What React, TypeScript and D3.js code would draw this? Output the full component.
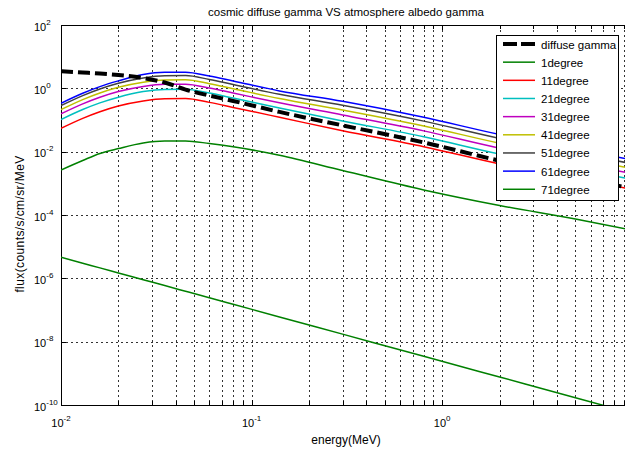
import React, { useEffect, useRef } from "react";
import * as d3 from "d3";

// energy grid (MeV) shared by all curves
const energy = [0.01, 0.013, 0.016, 0.02, 0.027, 0.035, 0.045, 0.06, 0.08, 0.14, 0.3, 0.8, 2, 5, 9.3];

const diffuseGamma = [3.45, 3.16, 2.94, 2.64, 2.12, 1.53, 0.91, 0.59, 0.4, 0.18, 0.0676, 0.0196, 0.00519, 0.00163, 0.00074];
const deg1 = [0.00264, 0.00526, 0.00877, 0.0125, 0.0188, 0.0217, 0.0217, 0.0181, 0.0143, 0.0077, 0.00255, 0.00062, 0.0002, 0.000075, 0.000036];
const deg11 = [0.0547, 0.113, 0.183, 0.277, 0.4, 0.47, 0.475, 0.36, 0.25, 0.122, 0.0457, 0.0144, 0.0041, 0.00143, 0.0007];
const deg21 = [0.104, 0.215, 0.348, 0.526, 0.788, 0.926, 0.936, 0.709, 0.493, 0.24, 0.0937, 0.0295, 0.0084, 0.00293, 0.00144];
const deg31 = [0.156, 0.322, 0.522, 0.789, 1.14, 1.34, 1.354, 1.026, 0.713, 0.348, 0.144, 0.0454, 0.0129, 0.0045, 0.0022];
const deg41 = [0.213, 0.441, 0.714, 1.08, 1.56, 1.833, 1.853, 1.404, 0.975, 0.476, 0.206, 0.0648, 0.0185, 0.00644, 0.00315];
const deg51 = [0.284, 0.588, 0.952, 1.44, 2.12, 2.49, 2.52, 1.91, 1.325, 0.647, 0.292, 0.0922, 0.0262, 0.00915, 0.00448];
const deg61 = [0.339, 0.701, 1.135, 1.717, 2.72, 3.2, 3.23, 2.45, 1.7, 0.83, 0.388, 0.122, 0.0349, 0.0122, 0.00595];
const deg71 = [4.62e-6, 3.0e-6, 2.14e-6, 1.48e-6, 9.05e-7, 5.9e-7, 3.91e-7, 2.44e-7, 1.52e-7, 6.05e-8, 1.73e-8, 3.45e-9, 7.66e-10, 1.7e-10, 6.1e-11];

const seriesNames = ["diffuse gamma", "1degree", "11degree", "21degree", "31degree", "41degree", "51degree", "61degree", "71degree"];
const seriesValues = [diffuseGamma, deg1, deg11, deg21, deg31, deg41, deg51, deg61, deg71];
const seriesColors = ["#000000", "#008000", "#ff0000", "#00bfbf", "#bf00bf", "#bfbf00", "#404040", "#0000ff", "#008000"];

const xTickExps = [-2, -1, 0];
const yTickExps = [2, 0, -2, -4, -6, -8, -10];

export default function App() {
  const ref = useRef<SVGSVGElement>(null);

  useEffect(() => {
    const width = 625;
    const height = 449;
    const left = 61, top = 25, bottom = 405;
    const font = "'Liberation Sans', Arial, sans-serif";

    const svg = d3.select(ref.current);
    svg.selectAll("*").remove();
    svg.attr("width", width).attr("height", height);

    svg.append("rect").attr("width", width).attr("height", height).attr("fill", "#fff");

    const x = d3.scaleLog().domain([0.01, 10]).range([left, left + 3 * 190.6]);
    const y = d3.scaleLog().domain([1e-10, 1e2]).range([bottom, top]);
    const right = width;

    svg.append("clipPath").attr("id", "plotclip")
      .append("rect").attr("x", left).attr("y", top).attr("width", right - left).attr("height", bottom - top);

    // x ticks (major + minor) from the scale
    const xTicks = x.ticks().filter(t => t < 10);
    const yTicks = yTickExps.map(e => Math.pow(10, e));

    const grid = svg.append("g").attr("stroke", "#333").attr("stroke-width", 1)
      .attr("stroke-dasharray", "2,3").attr("shape-rendering", "crispEdges");
    grid.selectAll(".vg").data(xTicks.filter(t => t > 0.01))
      .join("line")
      .attr("x1", d => Math.round(x(d)) + 0.5).attr("x2", d => Math.round(x(d)) + 0.5)
      .attr("y1", top).attr("y2", bottom);
    grid.selectAll(".hg").data(yTicks.filter(t => t < 1e2 && t > 1e-10))
      .join("line")
      .attr("x1", left).attr("x2", right)
      .attr("y1", d => Math.round(y(d)) + 0.5).attr("y2", d => Math.round(y(d)) + 0.5);

    // axes box + ticks
    const ax = svg.append("g").attr("stroke", "#000").attr("stroke-width", 1).attr("shape-rendering", "crispEdges");
    ax.append("line").attr("x1", left).attr("x2", right).attr("y1", top + 0.5).attr("y2", top + 0.5);
    ax.append("line").attr("x1", left).attr("x2", right).attr("y1", bottom + 0.5).attr("y2", bottom + 0.5);
    ax.append("line").attr("x1", left + 0.5).attr("x2", left + 0.5).attr("y1", top).attr("y2", bottom);
    xTicks.forEach(t => {
      const major = Math.abs(Math.log10(t) - Math.round(Math.log10(t))) < 1e-9;
      const len = major ? 5 : 4;
      const xp = Math.round(x(t)) + 0.5;
      ax.append("line").attr("x1", xp).attr("x2", xp).attr("y1", bottom).attr("y2", bottom - len);
      ax.append("line").attr("x1", xp).attr("x2", xp).attr("y1", top).attr("y2", top + len);
    });
    yTicks.forEach(t => {
      const yp = Math.round(y(t)) + 0.5;
      ax.append("line").attr("x1", left).attr("x2", left + 5).attr("y1", yp).attr("y2", yp);
    });

    // tick labels
    xTickExps.forEach(e => {
      const tx = svg.append("text").attr("x", x(Math.pow(10, e))).attr("y", 426.5)
        .attr("text-anchor", "middle").attr("font-family", font).attr("font-size", 11).attr("fill", "#000");
      tx.append("tspan").text("10");
      tx.append("tspan").attr("font-size", 8).attr("dy", -6).text(String(e));
    });
    yTickExps.forEach(e => {
      const ty = svg.append("text").attr("x", 34).attr("y", y(Math.pow(10, e)) + 5.5)
        .attr("text-anchor", "start").attr("font-family", font).attr("font-size", 11).attr("fill", "#000");
      ty.append("tspan").text("10");
      ty.append("tspan").attr("font-size", 8).attr("dy", -6).text(String(e));
    });

    // curves
    const line = d3.line<[number, number]>()
      .x(d => x(d[0])).y(d => y(d[1]))
      .curve(d3.curveMonotoneX);
    const plot = svg.append("g").attr("clip-path", "url(#plotclip)");
    const order = [1, 2, 3, 4, 5, 6, 7, 8, 0];
    order.forEach(i => {
      const pts = energy.map((e, k) => [e, seriesValues[i][k]] as [number, number]);
      plot.append("path").attr("d", line(pts))
        .attr("fill", "none")
        .attr("stroke", seriesColors[i])
        .attr("stroke-width", i === 0 ? 4 : 1.5)
        .attr("stroke-dasharray", i === 0 ? "12,5" : null);
    });

    // title and labels
    svg.append("text").attr("x", 346).attr("y", 16).attr("text-anchor", "middle")
      .attr("font-family", font).attr("font-size", 11.5).text("cosmic diffuse gamma VS atmosphere albedo gamma");
    svg.append("text").attr("x", 346).attr("y", 444).attr("text-anchor", "middle")
      .attr("font-family", font).attr("font-size", 12).text("energy(MeV)");
    svg.append("text").attr("transform", "translate(24,224) rotate(-90)").attr("text-anchor", "middle")
      .attr("font-family", font).attr("font-size", 12).attr("letter-spacing", 0.4).text("flux(counts/s/cm/sr/MeV");

    // legend
    const lg = svg.append("g");
    lg.append("rect").attr("x", 496.5).attr("y", 35.5).attr("width", 122).attr("height", 165)
      .attr("fill", "#fff").attr("stroke", "#000").attr("stroke-width", 1);
    seriesNames.forEach((name, i) => {
      const ly = 44 + i * 18.16;
      lg.append("line").attr("x1", 503).attr("x2", 535).attr("y1", ly).attr("y2", ly)
        .attr("stroke", seriesColors[i])
        .attr("stroke-width", i === 0 ? 4 : 1.5)
        .attr("stroke-dasharray", i === 0 ? "14,4" : null);
      lg.append("text").attr("x", 541).attr("y", ly + 4.5)
        .attr("font-family", font).attr("font-size", 11.5).attr("fill", "#000").text(name);
    });
  }, []);

  return <svg ref={ref} style={{ position: "absolute", left: 0, top: 0, display: "block" }}></svg>;
}
